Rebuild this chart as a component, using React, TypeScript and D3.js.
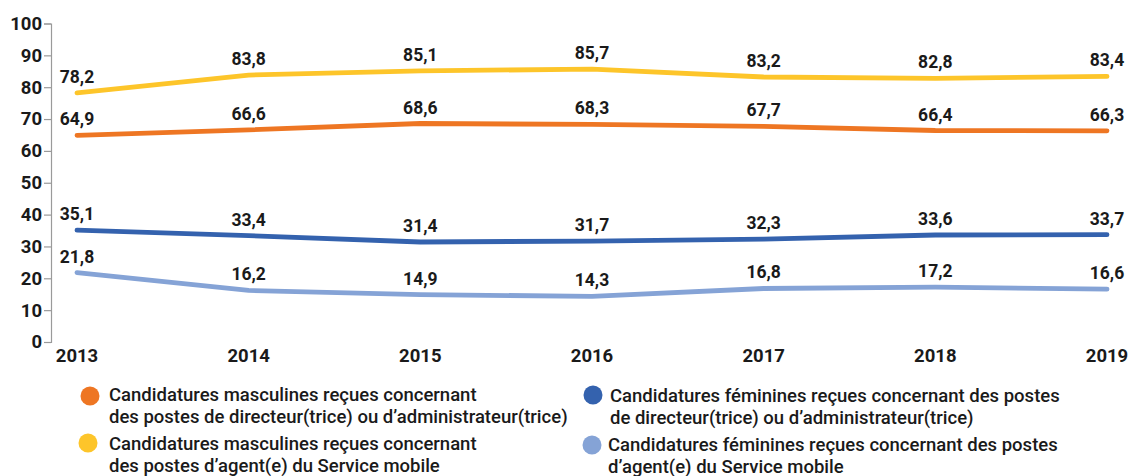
import React, { useEffect, useRef } from "react";
import * as d3 from "d3";

const years = ["2013", "2014", "2015", "2016", "2017", "2018", "2019"];
const maleDirector = [64.9, 66.6, 68.6, 68.3, 67.7, 66.4, 66.3];
const maleAgent = [78.2, 83.8, 85.1, 85.7, 83.2, 82.8, 83.4];
const femaleDirector = [35.1, 33.4, 31.4, 31.7, 32.3, 33.6, 33.7];
const femaleAgent = [21.8, 16.2, 14.9, 14.3, 16.8, 17.2, 16.6];
const yTicks = [0, 10, 20, 30, 40, 50, 60, 70, 80, 90, 100];

const series = [
  { key: "md", values: maleDirector, color: "#ee7623", legend: ["Candidatures masculines reçues concernant", "des postes de directeur(trice) ou d\u2019administrateur(trice)"] },
  { key: "ma", values: maleAgent, color: "#fdc52a", legend: ["Candidatures masculines reçues concernant", "des postes d\u2019agent(e) du Service mobile"] },
  { key: "fd", values: femaleDirector, color: "#3462ae", legend: ["Candidatures féminines reçues concernant des postes", "de directeur(trice) ou d\u2019administrateur(trice)"] },
  { key: "fa", values: femaleAgent, color: "#85a3d6", legend: ["Candidatures féminines reçues concernant des postes", "d\u2019agent(e) du Service mobile"] },
];

const fmt = (v: number) => v.toFixed(1).replace(".", ",");

const App = () => {
  const ref = useRef<SVGSVGElement>(null);

  useEffect(() => {
    const svg = d3.select(ref.current);
    svg.selectAll("*").remove();
    const font = "Roboto, 'Noto Sans', sans-serif";

    const x = d3.scalePoint().domain(years).range([77, 1107]);
    const y = d3.scaleLinear().domain([0, 100]).range([342, 23.5]);

    // y axis
    const yAxis = svg
      .append("g")
      .attr("transform", "translate(51,0)")
      .call(d3.axisLeft(y).tickValues(yTicks).tickSize(7).tickPadding(2).tickFormat(d3.format("d")));
    yAxis.select(".domain").attr("stroke", "#9a9a9a").attr("stroke-width", 1.2);
    yAxis.selectAll(".tick line").attr("stroke", "#9a9a9a").attr("stroke-width", 1.2);
    yAxis
      .selectAll(".tick text")
      .attr("font-family", font)
      .attr("font-size", 18.5)
      .attr("font-weight", 700)
      .attr("fill", "#1a1a1a");

    // x labels
    svg
      .append("g")
      .selectAll("text")
      .data(years)
      .join("text")
      .attr("x", (d) => x(d)!)
      .attr("y", 362)
      .attr("text-anchor", "middle")
      .attr("font-family", font)
      .attr("font-size", 18.5)
      .attr("font-weight", 700)
      .attr("fill", "#1a1a1a")
      .text((d) => d);

    const line = d3
      .line<number>()
      .x((_, i) => x(years[i])!)
      .y((d) => y(d));

    series.forEach((s) => {
      svg
        .append("path")
        .datum(s.values)
        .attr("fill", "none")
        .attr("stroke", s.color)
        .attr("stroke-width", 4.8)
        .attr("stroke-linecap", "round")
        .attr("stroke-linejoin", "round")
        .attr("d", line);

      svg
        .append("g")
        .selectAll("text")
        .data(s.values)
        .join("text")
        .attr("x", (_, i) => x(years[i])!)
        .attr("y", (d) => y(d) - 10)
        .attr("text-anchor", "middle")
        .attr("font-family", font)
        .attr("font-size", 17.5)
        .attr("font-weight", 700)
        .attr("fill", "#1a1a1a")
        .text((d) => fmt(d));
    });

    // legend
    const legendPos = [
      { cx: 90, cy: 396, tx: 109, ty: 401 },
      { cx: 88, cy: 443, tx: 109, ty: 450 },
      { cx: 593, cy: 395, tx: 610, ty: 402 },
      { cx: 592, cy: 445, tx: 608, ty: 451 },
    ];
    series.forEach((s, i) => {
      const p = legendPos[i];
      const g = svg.append("g");
      g.append("circle").attr("cx", p.cx).attr("cy", p.cy).attr("r", 9.5).attr("fill", s.color);
      s.legend.forEach((t, j) => {
        g.append("text")
          .attr("x", p.tx)
          .attr("y", p.ty + j * 21.5)
          .attr("font-family", font)
          .attr("font-size", 18.5)
          .attr("font-weight", 500)
          .attr("fill", "#1a1a1a")
          .text(t);
      });
    });
  }, []);

  return (
    <svg
      ref={ref}
      width={1129}
      height={476}
      style={{ position: "absolute", left: 0, top: 0, background: "#fff" }}
    />
  );
};

export default App;
